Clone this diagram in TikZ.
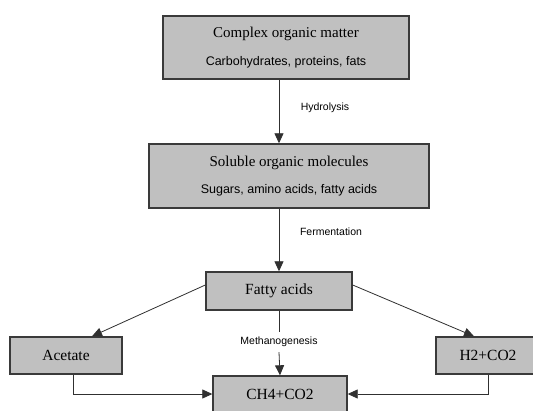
\documentclass[tikz,border=0pt]{standalone}
\usepackage{fontspec}
\setmainfont{Liberation Serif}
\newfontfamily\lsans{Liberation Sans}
\usetikzlibrary{arrows.meta}
\definecolor{boxfill}{HTML}{C0C0C0}
\definecolor{boxline}{HTML}{3A3A3A}
\definecolor{conn}{HTML}{303030}
\tikzset{
  box/.style={draw=boxline, line width=1.4pt, fill=boxfill, inner sep=0pt, align=center},
  titletxt/.style={font=\fontsize{15.5}{17}\selectfont},
  arr/.style={draw=conn, line width=0.8pt, -{Triangle[width=9pt,length=10pt]}},
  ln/.style={draw=conn, line width=0.8pt},
  lbl/.style={font=\lsans\fontsize{10.5}{12}\selectfont, inner sep=0pt}
}
\newcommand{\subl}[1]{{\lsans\fontsize{12.5}{15}\selectfont #1}}
\newcommand{\ttl}[1]{{\fontsize{15}{17}\selectfont #1}}
\begin{document}
\begin{tikzpicture}[x=1pt,y=-1pt]
\useasboundingbox[fill=white] (0,0) rectangle (533,410);
\node[box, minimum width=246pt, minimum height=63pt] (b1) at (286,47.5)
  {\ttl{Complex organic matter}\\[14pt]\subl{Carbohydrates, proteins, fats}};
\node[box, minimum width=280pt, minimum height=64pt] (b2) at (289,176)
  {\ttl{Soluble organic molecules}\\[14pt]\subl{Sugars, amino acids, fatty acids}};
\node[box, minimum width=146pt, minimum height=38pt, titletxt] (b3) at (279,291) {Fatty acids};
\node[box, minimum width=112pt, minimum height=37pt, titletxt] (b4) at (66,355.5) {Acetate};
\node[box, minimum width=104pt, minimum height=37pt, titletxt] (b5) at (488,355.5) {H2+CO2};
\node[box, minimum width=134pt, minimum height=36pt, titletxt] (b6) at (280,394) {CH4+CO2};
\node[lbl] (hyd) at (325,108) {Hydrolysis};
\node[lbl] (fer) at (331,232) {Fermentation};
\node[lbl, minimum height=20pt] (met) at (279,342) {Methanogenesis};
\draw[arr] (b1.south -| b3.north) -- (b2.north -| b3.north);
\draw[arr] (b2.south -| b3.north) -- (b3.north);
\draw[ln] (b3.south) -- (met.north);
\draw[arr] (met.south) -- (b6.north);
\draw[arr] ([yshift=6pt]b3.west) -- ([xshift=26pt]b4.north);
\draw[arr] ([yshift=6pt]b3.east) -- ([xshift=-14pt]b5.north);
\draw[arr] ([xshift=7pt]b4.south) |- (b6.west);
\draw[arr] (b5.south) |- (b6.east);
\end{tikzpicture}
\end{document}
